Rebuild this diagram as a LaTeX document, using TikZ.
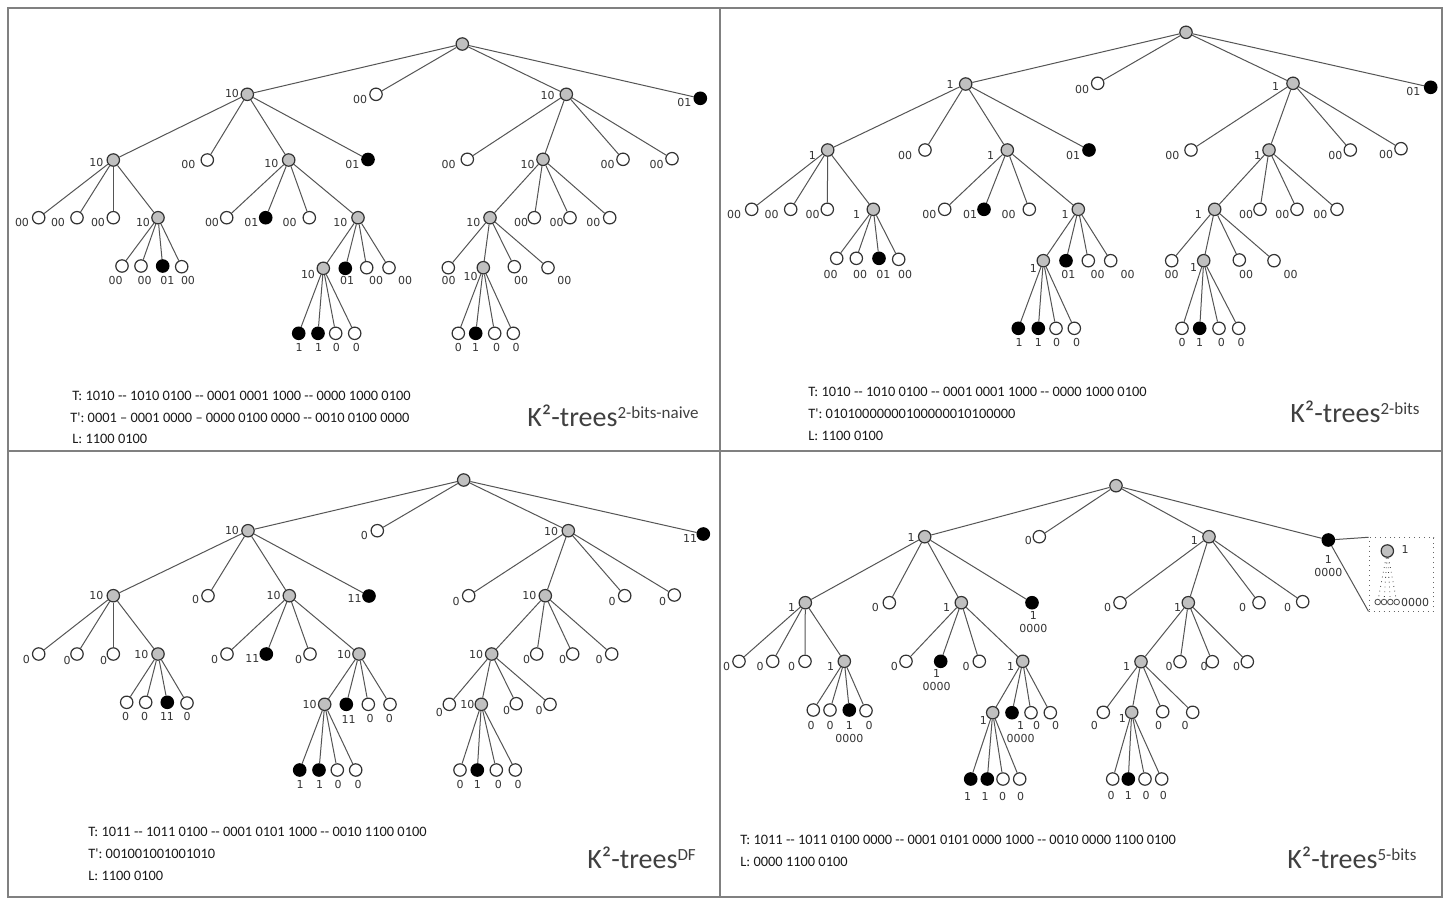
\documentclass[tikz,border=0pt]{standalone}
\usepackage{fontspec}
\newfontfamily\calfont{Carlito}
\newfontfamily\djfont{DejaVu Sans}
\definecolor{edgec}{HTML}{555555}
\definecolor{gfill}{HTML}{C0C0C0}
\definecolor{frmc}{HTML}{808080}
\definecolor{ttlc}{HTML}{404040}
\definecolor{txtc}{HTML}{1A1A1A}
\definecolor{lblc}{HTML}{333333}
\tikzset{
  gn/.style={circle,draw=black!80,fill=gfill,line width=0.6pt,minimum size=6.2pt,inner sep=0pt},
  wn/.style={circle,draw=black!80,fill=white,line width=0.6pt,minimum size=6.2pt,inner sep=0pt},
  bn/.style={circle,draw=black,fill=black,line width=0.6pt,minimum size=6.2pt,inner sep=0pt},
  sn/.style={circle,draw=black!70,fill=white,line width=0.4pt,minimum size=2.8pt,inner sep=0pt},
  ed/.style={draw=edgec,line width=0.5pt},
  dotted edge/.style={draw=black!75,line width=0.4pt,dotted},
  lbl/.style={font=\djfont\fontsize{5.5}{6.4}\selectfont,text=lblc,inner sep=0pt,align=center},
  txt/.style={font=\calfont\fontsize{7.2}{8}\selectfont,text=txtc,inner sep=0pt,anchor=west},
  ttl/.style={font=\calfont\fontsize{14}{14}\selectfont,text=ttlc,inner sep=0pt,anchor=base west},
  frm/.style={draw=frmc,line width=0.8pt},
  dbox/.style={draw=black!60,dotted,line width=0.45pt,minimum width=32.35pt,minimum height=36.65pt,inner sep=0pt}
}
\newcommand\tn[7]{\node[#2] (#1) at (#3,#4) {}; \node[lbl] (#1l) at (#5,#6) {#7};}
\newcommand\kids[2]{\foreach \k in {#2}{\draw[ed] (#1) -- (\k);}}
\newcommand\tsup[1]{\raisebox{4pt}{\fontsize{8.5}{8.5}\selectfont #1}}
\begin{document}
\begin{tikzpicture}[x=0.5pt,y=-0.5pt]
\useasboundingbox (0,0) rectangle (1452,907);
\fill[white] (0,0) rectangle (1452,907);
\draw[frm] (8,8) rectangle (1442,897);
\draw[frm] (720,8) -- (720,897);
\draw[frm] (8,451) -- (1442,451);

% ================= Q1 =================
\node[gn] (a0) at (462.3,44) {};
\tn{a1}{gn}{247.3}{94.3}{232}{93.3}{10}
\tn{a2}{wn}{376}{94.3}{360}{99.5}{00}
\tn{a3}{gn}{566.3}{94.3}{547.7}{95.7}{10}
\tn{a4}{bn}{700.3}{98.3}{684.3}{102.3}{01}
\kids{a0}{a1,a2,a3,a4}
\tn{a11}{gn}{113.3}{160}{96.3}{162.3}{10}
\tn{a12}{wn}{207.3}{160}{188.3}{164.3}{00}
\tn{a13}{gn}{288.7}{160}{271.3}{163.3}{10}
\tn{a14}{bn}{368}{159.5}{352.3}{164.3}{01}
\kids{a1}{a11,a12,a13,a14}
\tn{a111}{wn}{38.7}{217.7}{22}{222.3}{00}
\tn{a112}{wn}{77}{217.7}{58}{222.3}{00}
\tn{a113}{wn}{113.3}{217.7}{98}{222.3}{00}
\tn{a114}{gn}{158}{217.7}{143}{222.3}{10}
\kids{a11}{a111,a112,a113,a114}
\tn{a1141}{wn}{122}{266}{115.7}{280}{00}
\tn{a1142}{wn}{141}{266}{144.7}{280}{00}
\tn{a1143}{bn}{162.7}{266}{167.3}{280}{01}
\tn{a1144}{wn}{181.7}{266.7}{188}{280}{00}
\kids{a114}{a1141,a1142,a1143,a1144}
\tn{a131}{wn}{226.7}{217.7}{212}{222.3}{00}
\tn{a132}{bn}{265.7}{217.7}{251.3}{222.3}{01}
\tn{a133}{wn}{309.3}{217.7}{289.7}{222.3}{00}
\tn{a134}{gn}{358}{217.7}{340.3}{222.3}{10}
\kids{a13}{a131,a132,a133,a134}
\tn{a1341}{gn}{323.3}{268.3}{308}{274.3}{10}
\tn{a1342}{bn}{345.3}{268.3}{347}{280}{01}
\tn{a1343}{wn}{366.7}{267.7}{376}{280}{00}
\tn{a1344}{wn}{389}{267.7}{405}{280}{00}
\kids{a134}{a1341,a1342,a1343,a1344}
\tn{a13411}{bn}{298.7}{333.3}{299}{347.7}{1}
\tn{a13412}{bn}{318}{333.3}{318.7}{347.7}{1}
\tn{a13413}{wn}{335.7}{333.3}{336.3}{347.7}{0}
\tn{a13414}{wn}{354.7}{333.3}{356.3}{347.7}{0}
\kids{a1341}{a13411,a13412,a13413,a13414}
\tn{a31}{wn}{467.3}{159.3}{448.7}{164.3}{00}
\tn{a32}{gn}{543}{159.3}{527.7}{164.3}{10}
\tn{a33}{wn}{623}{159.3}{607.7}{164.3}{00}
\tn{a34}{wn}{672}{158.7}{656.7}{164.3}{00}
\kids{a3}{a31,a32,a33,a34}
\tn{a321}{gn}{490}{217.7}{473.3}{222.3}{10}
\tn{a322}{wn}{534.3}{217.7}{521}{222.3}{00}
\tn{a323}{wn}{570}{217.7}{556.7}{222.3}{00}
\tn{a324}{wn}{609.7}{217.7}{593.3}{222.3}{00}
\kids{a32}{a321,a322,a323,a324}
\tn{a3211}{wn}{448.3}{267.7}{448.7}{280}{00}
\tn{a3212}{gn}{483.3}{267.7}{470.7}{276.7}{10}
\tn{a3213}{wn}{514.3}{266.7}{521}{280}{00}
\tn{a3214}{wn}{548}{267.7}{564.3}{280}{00}
\kids{a321}{a3211,a3212,a3213,a3214}
\tn{a32121}{wn}{458.3}{333.3}{458.3}{347.7}{0}
\tn{a32122}{bn}{475.7}{333.3}{475.7}{347.7}{1}
\tn{a32123}{wn}{494.7}{333.3}{496.7}{347.7}{0}
\tn{a32124}{wn}{513.3}{333.3}{516}{347.7}{0}
\kids{a3212}{a32121,a32122,a32123,a32124}
\node[txt] (aT) at (72,396) {T: 1010 -{}- 1010 0100 -{}- 0001 0001 1000 -{}- 0000 1000 0100};
\node[txt] (aTp) at (70,418) {T': 0001 – 0001 0000 – 0000 0100 0000 -{}- 0010 0100 0000};
\node[txt] (aL) at (72,439) {L: 1100 0100};
\node[ttl] (aTitle) at (527,426) {K²-trees\tsup{2-bits-naive}};

% ================= Q2 =================
\node[gn] (b0) at (1186,32.3) {};
\tn{b1}{gn}{965.7}{84}{950}{84}{1}
\tn{b2}{wn}{1097.7}{83.3}{1082}{89}{00}
\tn{b3}{gn}{1293}{83.3}{1275.7}{86.7}{1}
\tn{b4}{bn}{1430.7}{87.3}{1413.3}{91.7}{01}
\kids{b0}{b1,b2,b3,b4}
\tn{b11}{gn}{827.7}{150}{812.3}{155}{1}
\tn{b12}{wn}{925}{150}{905}{155}{00}
\tn{b13}{gn}{1007.3}{150}{990.7}{155}{1}
\tn{b14}{bn}{1089}{150}{1073}{155}{01}
\kids{b1}{b11,b12,b13,b14}
\tn{b111}{wn}{751.7}{209.3}{734}{214}{00}
\tn{b112}{wn}{790.7}{209.3}{771.7}{214}{00}
\tn{b113}{wn}{827.3}{209.3}{812.7}{214}{00}
\tn{b114}{gn}{873.3}{209.3}{856.7}{214}{1}
\kids{b11}{b111,b112,b113,b114}
\tn{b1141}{wn}{836.7}{258.3}{830.7}{274}{00}
\tn{b1142}{wn}{856.3}{258.3}{860}{274}{00}
\tn{b1143}{bn}{879}{258.3}{883.3}{274}{01}
\tn{b1144}{wn}{898.7}{259.3}{905}{274}{00}
\kids{b114}{b1141,b1142,b1143,b1144}
\tn{b131}{wn}{944.7}{209.3}{929.3}{214}{00}
\tn{b132}{bn}{984}{209.3}{970}{214}{01}
\tn{b133}{wn}{1029.3}{209.3}{1008.7}{214}{00}
\tn{b134}{gn}{1078.3}{209.3}{1065}{214}{1}
\kids{b13}{b131,b132,b133,b134}
\tn{b1341}{gn}{1043.3}{260.7}{1033.3}{268.3}{1}
\tn{b1342}{bn}{1066}{260.7}{1068.3}{274}{01}
\tn{b1343}{wn}{1088.3}{260.7}{1097.7}{274}{00}
\tn{b1344}{wn}{1110.7}{260.7}{1127.7}{274}{00}
\kids{b134}{b1341,b1342,b1343,b1344}
\tn{b13411}{bn}{1018.3}{328.3}{1019}{342.7}{1}
\tn{b13412}{bn}{1038.3}{328.3}{1038.3}{342.7}{1}
\tn{b13413}{wn}{1056}{328.3}{1056.7}{342.7}{0}
\tn{b13414}{wn}{1074.3}{328.3}{1076.7}{342.7}{0}
\kids{b1341}{b13411,b13412,b13413,b13414}
\tn{b31}{wn}{1191}{150}{1172.3}{155}{00}
\tn{b32}{gn}{1269}{150}{1257.7}{155}{1}
\tn{b33}{wn}{1350.3}{150}{1335.3}{155}{00}
\tn{b34}{wn}{1401}{148.7}{1386}{154.3}{00}
\kids{b3}{b31,b32,b33,b34}
\tn{b321}{gn}{1214.7}{209.3}{1198.3}{214}{1}
\tn{b322}{wn}{1260}{209.3}{1246}{214}{00}
\tn{b323}{wn}{1297}{209.3}{1282.3}{214}{00}
\tn{b324}{wn}{1337}{209.3}{1320.3}{214}{00}
\kids{b32}{b321,b322,b323,b324}
\tn{b3211}{wn}{1171.7}{260.7}{1171.7}{274}{00}
\tn{b3212}{gn}{1203.7}{260.7}{1193.7}{267.3}{1}
\tn{b3213}{wn}{1239.3}{260}{1246}{274}{00}
\tn{b3214}{wn}{1274}{260.7}{1290.7}{274}{00}
\kids{b321}{b3211,b3212,b3213,b3214}
\tn{b32121}{wn}{1182}{328.3}{1182}{342.7}{0}
\tn{b32122}{bn}{1199.7}{328.3}{1199.7}{342.7}{1}
\tn{b32123}{wn}{1219}{328.3}{1221.3}{342.7}{0}
\tn{b32124}{wn}{1238.7}{328.3}{1241}{342.7}{0}
\kids{b3212}{b32121,b32122,b32123,b32124}
\node[txt] (bT) at (808,392) {T: 1010 -{}- 1010 0100 -{}- 0001 0001 1000 -{}- 0000 1000 0100};
\node[txt] (bTp) at (808,414) {T': 01010000000100000010100000};
\node[txt] (bL) at (808,436) {L: 1100 0100};
\node[ttl] (bTitle) at (1290,422) {K²-trees\tsup{2-bits}};

% ================= Q3 =================
\node[gn] (c0) at (463.7,480) {};
\tn{c1}{gn}{248}{530.7}{232}{530.7}{10}
\tn{c2}{wn}{377.3}{530.7}{364.3}{535.7}{0}
\tn{c3}{gn}{568.3}{530.7}{551}{531.7}{10}
\tn{c4}{bn}{703.3}{534}{690}{538.3}{11}
\kids{c0}{c1,c2,c3,c4}
\tn{c11}{gn}{113.3}{595.7}{96.3}{595.7}{10}
\tn{c12}{wn}{208}{595.7}{195.7}{599.3}{0}
\tn{c13}{gn}{289.3}{595.7}{273.7}{595.7}{10}
\tn{c14}{bn}{369}{596}{354.7}{598.3}{11}
\kids{c1}{c11,c12,c13,c14}
\tn{c111}{wn}{38.7}{654}{26.3}{659.3}{0}
\tn{c112}{wn}{77}{654}{67}{660.7}{0}
\tn{c113}{wn}{113.3}{654}{103.7}{660.7}{0}
\tn{c114}{gn}{158}{654}{141.3}{654}{10}
\kids{c11}{c111,c112,c113,c114}
\tn{c1141}{wn}{126.7}{702.3}{125.7}{716.7}{0}
\tn{c1142}{wn}{145.7}{702.3}{144.7}{716.7}{0}
\tn{c1143}{bn}{167.3}{702.3}{167}{716.7}{11}
\tn{c1144}{wn}{187}{703}{187}{716.7}{0}
\kids{c114}{c1141,c1142,c1143,c1144}
\tn{c131}{wn}{227}{654}{214.7}{659.3}{0}
\tn{c132}{bn}{266.3}{654}{252.3}{658.3}{11}
\tn{c133}{wn}{310}{654}{298.7}{659.3}{0}
\tn{c134}{gn}{359}{654}{344}{654}{10}
\kids{c13}{c131,c132,c133,c134}
\tn{c1341}{gn}{324.7}{704.3}{309.7}{704.3}{10}
\tn{c1342}{bn}{346.3}{704.3}{348.7}{719}{11}
\tn{c1343}{wn}{368.3}{704.3}{370}{718.3}{0}
\tn{c1344}{wn}{390}{704.3}{389.3}{718.3}{0}
\kids{c134}{c1341,c1342,c1343,c1344}
\tn{c13411}{bn}{299.7}{770}{300}{784.3}{1}
\tn{c13412}{bn}{319}{770}{319.7}{784.3}{1}
\tn{c13413}{wn}{337.3}{770}{338}{784.3}{0}
\tn{c13414}{wn}{355.7}{770}{358}{784.3}{0}
\kids{c1341}{c13411,c13412,c13413,c13414}
\tn{c31}{wn}{468.7}{595.7}{456}{601}{0}
\tn{c32}{gn}{545.3}{595.7}{529.3}{595.7}{10}
\tn{c33}{wn}{624.7}{595.7}{612}{601}{0}
\tn{c34}{wn}{674.3}{595}{662.7}{601}{0}
\kids{c3}{c31,c32,c33,c34}
\tn{c321}{gn}{491.7}{654}{476}{654}{10}
\tn{c322}{wn}{536.7}{654}{526.7}{659}{0}
\tn{c323}{wn}{572.7}{654}{562.7}{659}{0}
\tn{c324}{wn}{611.7}{654}{599}{659}{0}
\kids{c32}{c321,c322,c323,c324}
\tn{c3211}{wn}{449.3}{704.3}{439.3}{712.7}{0}
\tn{c3212}{gn}{481.3}{704.3}{467.3}{704.3}{10}
\tn{c3213}{wn}{516.3}{703.7}{506.7}{710.3}{0}
\tn{c3214}{wn}{550}{704.3}{539}{710.3}{0}
\kids{c321}{c3211,c3212,c3213,c3214}
\tn{c32121}{wn}{460}{770}{460}{784.3}{0}
\tn{c32122}{bn}{477.3}{770}{477.3}{784.3}{1}
\tn{c32123}{wn}{496.3}{770}{498.3}{784.3}{0}
\tn{c32124}{wn}{515.3}{770}{518}{784.3}{0}
\kids{c3212}{c32121,c32122,c32123,c32124}
\node[txt] (cT) at (88,832) {T: 1011 -{}- 1011 0100 -{}- 0001 0101 1000 -{}- 0010 1100 0100};
\node[txt] (cTp) at (88,854) {T': 001001001001010};
\node[txt] (cL) at (88,876) {L: 1100 0100};
\node[ttl] (cTitle) at (587,868) {K²-trees\tsup{DF}};

% ================= Q4 =================
\node[gn] (d0) at (1116,485.7) {};
\tn{d1}{gn}{924.7}{536.7}{911}{537.7}{1}
\tn{d2}{wn}{1039.3}{536.7}{1028.3}{540.7}{0}
\tn{d3}{gn}{1209}{536.7}{1194.3}{540}{1}
\tn{d4}{bn}{1328.3}{540}{1328.3}{566.3}{1\\0000}
\kids{d0}{d1,d2,d3,d4}
\tn{d11}{gn}{805.3}{602.7}{791.7}{607.3}{1}
\tn{d12}{wn}{889.3}{602.7}{875.3}{607.3}{0}
\tn{d13}{gn}{961.3}{602.7}{946.7}{607.3}{1}
\tn{d14}{bn}{1032}{602.7}{1033.3}{622}{1\\0000}
\kids{d1}{d11,d12,d13,d14}
\tn{d111}{wn}{739}{661.3}{726.7}{666}{0}
\tn{d112}{wn}{772.7}{661.3}{760}{666}{0}
\tn{d113}{wn}{805}{661.3}{791.7}{666}{0}
\tn{d114}{gn}{844.3}{661.3}{830.7}{666.7}{1}
\kids{d11}{d111,d112,d113,d114}
\tn{d1141}{wn}{813.3}{710}{811}{725}{0}
\tn{d1142}{wn}{830}{710}{830}{725}{0}
\tn{d1143}{bn}{849.3}{710}{849.3}{731.7}{1\\0000}
\tn{d1144}{wn}{866}{710.7}{869}{725}{0}
\kids{d114}{d1141,d1142,d1143,d1144}
\tn{d131}{wn}{906}{661.3}{894.3}{666}{0}
\tn{d132}{bn}{940.7}{661.3}{936.7}{680}{1\\0000}
\tn{d133}{wn}{979.3}{661.3}{966}{666}{0}
\tn{d134}{gn}{1022.7}{661.3}{1010.7}{666.7}{1}
\kids{d13}{d131,d132,d133,d134}
\tn{d1341}{gn}{992.7}{712.7}{983.3}{720}{1}
\tn{d1342}{bn}{1012}{712.7}{1020.7}{731.7}{1\\0000}
\tn{d1343}{wn}{1031}{712.7}{1036.7}{725}{0}
\tn{d1344}{wn}{1050.3}{712.7}{1055.7}{725}{0}
\kids{d134}{d1341,d1342,d1343,d1344}
\tn{d13411}{bn}{970.7}{779}{967.7}{796.7}{1}
\tn{d13412}{bn}{987.3}{779}{985}{796.7}{1}
\tn{d13413}{wn}{1003}{779}{1002.7}{796.7}{0}
\tn{d13414}{wn}{1019.7}{779}{1020.7}{796.7}{0}
\kids{d1341}{d13411,d13412,d13413,d13414}
\tn{d31}{wn}{1120}{602.7}{1107.7}{607.3}{0}
\tn{d32}{gn}{1188.3}{602.7}{1177.7}{607.3}{1}
\tn{d33}{wn}{1259}{602.7}{1242.7}{607.3}{0}
\tn{d34}{wn}{1302.7}{601.7}{1287.7}{607.3}{0}
\kids{d3}{d31,d32,d33,d34}
\tn{d321}{gn}{1141}{661.7}{1126.7}{666.7}{1}
\tn{d322}{wn}{1180}{661.7}{1169}{666}{0}
\tn{d323}{wn}{1212.3}{661.7}{1204}{666}{0}
\tn{d324}{wn}{1247.3}{661.7}{1236.7}{666}{0}
\kids{d32}{d321,d322,d323,d324}
\tn{d3211}{wn}{1103.3}{712.3}{1094.3}{725}{0}
\tn{d3212}{gn}{1131.7}{712.3}{1122.3}{718.3}{1}
\tn{d3213}{wn}{1162.7}{711.7}{1158.7}{725}{0}
\tn{d3214}{wn}{1192.7}{712.3}{1185}{725}{0}
\kids{d321}{d3211,d3212,d3213,d3214}
\tn{d32121}{wn}{1112.7}{779}{1111}{795.7}{0}
\tn{d32122}{bn}{1128.3}{779}{1128.3}{795.7}{1}
\tn{d32123}{wn}{1145}{779}{1146}{795.7}{0}
\tn{d32124}{wn}{1161.7}{779}{1163.3}{795.7}{0}
\kids{d3212}{d32121,d32122,d32123,d32124}
% zoom box
\node[dbox] (dbx) at (1401.35,574.35) {};
\draw[ed] (d4) -- (dbx.north west);
\draw[ed] (d4) -- (dbx.south west);
\tn{dg}{gn}{1387.3}{551}{1405}{549.3}{1}
\node[sn] (ds1) at (1377.7,602) {};
\node[sn] (ds2) at (1384,602) {};
\node[sn] (ds3) at (1390.3,602) {};
\node[sn] (ds4) at (1396.7,602) {};
\node[lbl] (dsl) at (1415,602.3) {0000};
\foreach \k in {ds1,ds2,ds3,ds4}{\draw[dotted edge] (dg) -- (\k);}
\node[txt] (dT) at (740,840) {T: 1011 -{}- 1011 0100 0000 -{}- 0001 0101 0000 1000 -{}- 0010 0000 1100 0100};
\node[txt] (dL) at (740,862) {L: 0000 1100 0100};
\node[ttl] (dTitle) at (1287,868) {K²-trees\tsup{5-bits}};
\end{tikzpicture}
\end{document}
